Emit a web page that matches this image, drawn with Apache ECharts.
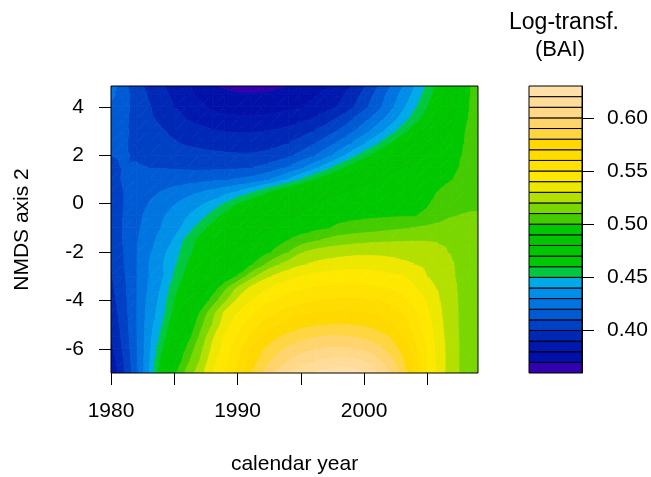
<!DOCTYPE html>
<html>
<head>
<meta charset="utf-8">
<script src="https://cdn.jsdelivr.net/npm/echarts@6/dist/echarts.min.js"></script>
<style>
  html, body { margin: 0; padding: 0; background: #fff; }
  #chart { width: 651px; height: 477px; }
</style>
</head>
<body>
<div id="chart"></div>
<script>
// grid of the surface: calendar year (columns) and NMDS axis 2 (rows, bottom to top)
var years = [1980, 1981, 1982, 1983, 1984, 1985, 1986, 1987, 1988, 1989,
  1990, 1991, 1992, 1993, 1994, 1995, 1996, 1997, 1998, 1999,
  2000, 2001, 2002, 2003, 2004, 2005, 2006, 2007, 2008, 2009];
var nmds = [-7, -6.5, -6, -5.5, -5, -4.5, -4, -3.5, -3, -2.5, -2, -1.5, -1,
  -0.5, 0, 0.5, 1, 1.5, 2, 2.5, 3, 3.5, 4, 4.5, 4.86];

// log-transformed BAI, one row per nmds value
var logBAI = [
  [0.381, 0.398, 0.417, 0.4395, 0.468, 0.497, 0.513, 0.525, 0.539, 0.550, 0.564, 0.579, 0.590, 0.601, 0.6105, 0.615, 0.6205, 0.624, 0.626, 0.625, 0.622, 0.611, 0.600, 0.586, 0.570, 0.550, 0.534, 0.524, 0.516, 0.513],
  [0.384, 0.400, 0.418, 0.4385, 0.464, 0.490, 0.507, 0.520, 0.536, 0.547, 0.559, 0.573, 0.584, 0.593, 0.600, 0.606, 0.6095, 0.612, 0.614, 0.613, 0.610, 0.603, 0.594, 0.582, 0.566, 0.548, 0.534, 0.524, 0.516, 0.513],
  [0.387, 0.402, 0.4185, 0.4375, 0.458, 0.480, 0.502, 0.516, 0.532, 0.544, 0.556, 0.569, 0.579, 0.586, 0.592, 0.596, 0.599, 0.601, 0.6015, 0.6005, 0.598, 0.593, 0.586, 0.577, 0.563, 0.548, 0.534, 0.524, 0.516, 0.513],
  [0.3895, 0.4035, 0.419, 0.4365, 0.453, 0.474, 0.494, 0.511, 0.528, 0.541, 0.551, 0.561, 0.572, 0.578, 0.583, 0.587, 0.5895, 0.591, 0.591, 0.590, 0.588, 0.584, 0.580, 0.570, 0.559, 0.546, 0.533, 0.5235, 0.516, 0.513],
  [0.392, 0.4045, 0.4195, 0.4355, 0.449, 0.469, 0.488, 0.506, 0.520, 0.536, 0.546, 0.554, 0.562, 0.568, 0.573, 0.576, 0.5785, 0.580, 0.5805, 0.580, 0.5785, 0.576, 0.572, 0.565, 0.555, 0.544, 0.532, 0.523, 0.516, 0.513],
  [0.394, 0.4055, 0.4195, 0.4345, 0.445, 0.463, 0.482, 0.500, 0.516, 0.532, 0.540, 0.547, 0.556, 0.560, 0.564, 0.5675, 0.570, 0.571, 0.5715, 0.571, 0.570, 0.568, 0.564, 0.560, 0.552, 0.541, 0.531, 0.523, 0.516, 0.513],
  [0.396, 0.4065, 0.4195, 0.433, 0.443, 0.460, 0.475, 0.489, 0.504, 0.518, 0.532, 0.539, 0.545, 0.5495, 0.554, 0.557, 0.5595, 0.561, 0.562, 0.562, 0.5615, 0.5605, 0.558, 0.553, 0.546, 0.539, 0.530, 0.5225, 0.516, 0.513],
  [0.3975, 0.4075, 0.4195, 0.4315, 0.441, 0.456, 0.469, 0.481, 0.493, 0.508, 0.522, 0.532, 0.538, 0.5425, 0.546, 0.549, 0.551, 0.5525, 0.553, 0.553, 0.5525, 0.5515, 0.550, 0.546, 0.541, 0.534, 0.528, 0.522, 0.516, 0.513],
  [0.399, 0.4085, 0.4195, 0.430, 0.438, 0.451, 0.464, 0.474, 0.482, 0.491, 0.501, 0.515, 0.526, 0.532, 0.5365, 0.540, 0.5425, 0.544, 0.5445, 0.545, 0.5445, 0.5435, 0.542, 0.5405, 0.536, 0.530, 0.525, 0.521, 0.5155, 0.513],
  [0.3995, 0.4095, 0.4195, 0.430, 0.439, 0.448, 0.460, 0.468, 0.476, 0.483, 0.490, 0.498, 0.508, 0.518, 0.524, 0.5285, 0.5315, 0.5335, 0.535, 0.536, 0.536, 0.5355, 0.534, 0.532, 0.530, 0.527, 0.524, 0.5205, 0.5155, 0.513],
  [0.400, 0.410, 0.4195, 0.4285, 0.437, 0.445, 0.456, 0.465, 0.473, 0.480, 0.486, 0.491, 0.496, 0.502, 0.510, 0.519, 0.523, 0.525, 0.526, 0.527, 0.5275, 0.5275, 0.527, 0.526, 0.525, 0.5235, 0.5215, 0.519, 0.515, 0.5125],
  [0.401, 0.411, 0.419, 0.4265, 0.4335, 0.441, 0.453, 0.463, 0.471, 0.4775, 0.483, 0.488, 0.492, 0.496, 0.500, 0.504, 0.508, 0.5115, 0.5145, 0.516, 0.517, 0.518, 0.5185, 0.519, 0.5195, 0.5195, 0.519, 0.518, 0.514, 0.512],
  [0.402, 0.411, 0.418, 0.4245, 0.4305, 0.4365, 0.4435, 0.455, 0.464, 0.471, 0.477, 0.482, 0.486, 0.4895, 0.4925, 0.495, 0.497, 0.499, 0.502, 0.5035, 0.505, 0.506, 0.5075, 0.509, 0.5105, 0.512, 0.514, 0.515, 0.513, 0.512],
  [0.403, 0.4105, 0.417, 0.423, 0.4285, 0.434, 0.4395, 0.4445, 0.454, 0.463, 0.470, 0.4755, 0.480, 0.484, 0.4875, 0.4905, 0.493, 0.495, 0.4965, 0.4975, 0.498, 0.4985, 0.499, 0.4995, 0.4998, 0.501, 0.505, 0.5095, 0.511, 0.511],
  [0.404, 0.410, 0.4155, 0.4205, 0.425, 0.4295, 0.434, 0.4385, 0.443, 0.451, 0.460, 0.467, 0.473, 0.478, 0.4825, 0.486, 0.489, 0.4915, 0.4935, 0.495, 0.496, 0.497, 0.4975, 0.498, 0.4985, 0.4995, 0.502, 0.5045, 0.5065, 0.508],
  [0.405, 0.410, 0.414, 0.4175, 0.4205, 0.4235, 0.4265, 0.4295, 0.4325, 0.436, 0.4405, 0.447, 0.455, 0.463, 0.470, 0.476, 0.481, 0.485, 0.488, 0.4905, 0.4925, 0.494, 0.495, 0.496, 0.497, 0.498, 0.5005, 0.5025, 0.504, 0.5055],
  [0.407, 0.411, 0.4135, 0.4145, 0.415, 0.4155, 0.416, 0.417, 0.418, 0.4195, 0.421, 0.4235, 0.427, 0.433, 0.441, 0.450, 0.459, 0.467, 0.474, 0.480, 0.485, 0.489, 0.492, 0.494, 0.4955, 0.497, 0.498, 0.500, 0.5025, 0.5045],
  [0.4085, 0.4105, 0.411, 0.410, 0.4095, 0.409, 0.4085, 0.408, 0.408, 0.408, 0.4085, 0.4095, 0.412, 0.416, 0.421, 0.428, 0.436, 0.445, 0.455, 0.465, 0.473, 0.479, 0.484, 0.488, 0.491, 0.494, 0.496, 0.4985, 0.5015, 0.504],
  [0.410, 0.411, 0.409, 0.407, 0.406, 0.4045, 0.4035, 0.4025, 0.402, 0.4015, 0.401, 0.401, 0.402, 0.404, 0.408, 0.413, 0.419, 0.426, 0.435, 0.445, 0.455, 0.465, 0.473, 0.480, 0.486, 0.491, 0.494, 0.497, 0.501, 0.504],
  [0.411, 0.411, 0.408, 0.405, 0.403, 0.401, 0.399, 0.398, 0.397, 0.396, 0.3955, 0.3955, 0.396, 0.3975, 0.400, 0.404, 0.409, 0.415, 0.422, 0.430, 0.439, 0.448, 0.459, 0.469, 0.477, 0.484, 0.489, 0.494, 0.5005, 0.504],
  [0.413, 0.4115, 0.408, 0.404, 0.401, 0.398, 0.395, 0.393, 0.391, 0.390, 0.3895, 0.3895, 0.390, 0.391, 0.393, 0.396, 0.400, 0.405, 0.411, 0.418, 0.426, 0.435, 0.444, 0.455, 0.466, 0.475, 0.483, 0.490, 0.500, 0.504],
  [0.415, 0.412, 0.407, 0.402, 0.398, 0.394, 0.390, 0.387, 0.3845, 0.383, 0.382, 0.382, 0.3825, 0.3835, 0.385, 0.3875, 0.391, 0.396, 0.402, 0.409, 0.417, 0.425, 0.434, 0.444, 0.455, 0.466, 0.476, 0.486, 0.499, 0.5035],
  [0.418, 0.413, 0.407, 0.401, 0.395, 0.390, 0.386, 0.382, 0.378, 0.376, 0.375, 0.3745, 0.375, 0.376, 0.3775, 0.3795, 0.382, 0.386, 0.391, 0.398, 0.407, 0.416, 0.426, 0.437, 0.448, 0.460, 0.472, 0.484, 0.4985, 0.503],
  [0.423, 0.414, 0.406, 0.399, 0.393, 0.388, 0.383, 0.378, 0.376, 0.373, 0.3715, 0.371, 0.3715, 0.373, 0.3745, 0.376, 0.379, 0.382, 0.387, 0.394, 0.403, 0.413, 0.423, 0.433, 0.443, 0.455, 0.468, 0.482, 0.498, 0.503],
  [0.426, 0.413, 0.404, 0.397, 0.391, 0.386, 0.382, 0.376, 0.372, 0.368, 0.366, 0.365, 0.365, 0.367, 0.370, 0.373, 0.376, 0.379, 0.383, 0.390, 0.399, 0.409, 0.419, 0.429, 0.440, 0.452, 0.466, 0.480, 0.4975, 0.503]
];

// contour levels and their fill colours (as in the key)
var levels = [0.36, 0.37, 0.38, 0.39, 0.40, 0.41, 0.42, 0.43, 0.44, 0.45, 0.46, 0.47, 0.48, 0.49,
  0.50, 0.51, 0.52, 0.53, 0.54, 0.55, 0.56, 0.57, 0.58, 0.59, 0.60, 0.61, 0.62, 0.63];
var levelColors = ['#3300b0', '#0010a8', '#0018ae', '#0028b6', '#0040c4', '#005ad4', '#0074e0',
  '#008ee8', '#00aae8', '#00c840', '#00c800', '#00c600', '#00c500', '#00c800', '#44cc00',
  '#7ad800', '#b3e000', '#eee800', '#ffe800', '#ffe200', '#ffdc00', '#ffd800', '#ffd540',
  '#ffd46c', '#ffd888', '#ffdc98', '#ffe0a8'];

var xTicks = [1980, 1985, 1990, 1995, 2000, 2005];
var xLabels = [1980, 1990, 2000];
var yTicks = [-6, -4, -2, 0, 2, 4];
var keyTicks = [0.40, 0.45, 0.50, 0.55, 0.60];

// keep the part of a polygon where sign * (value - thr) >= 0
function clipPoly(poly, thr, sign) {
  var res = [];
  for (var n = 0; n < poly.length; n++) {
    var a = poly[n], b = poly[(n + 1) % poly.length];
    var ina = sign * (a[2] - thr) >= 0, inb = sign * (b[2] - thr) >= 0;
    if (ina) res.push(a);
    if (ina !== inb) {
      var t = (thr - a[2]) / (b[2] - a[2]);
      res.push([a[0] + t * (b[0] - a[0]), a[1] + t * (b[1] - a[1]), thr]);
    }
  }
  return res;
}

// split one triangle of the grid into filled contour bands
function bands(tri, out) {
  var vals = tri.map(function (p) { return p[2]; });
  var vmin = Math.min.apply(null, vals), vmax = Math.max.apply(null, vals);
  for (var k = 0; k < levels.length - 1; k++) {
    var lo = k === 0 ? -Infinity : levels[k];
    var hi = k === levels.length - 2 ? Infinity : levels[k + 1];
    if (vmax < lo || vmin > hi) continue;
    var poly = clipPoly(tri, lo, 1);
    if (poly.length < 3) continue;
    poly = clipPoly(poly, hi, -1);
    if (poly.length < 3) continue;
    out.push({
      type: 'polygon',
      silent: true,
      shape: { points: poly.map(function (p) { return [p[0], p[1]]; }) },
      style: { fill: levelColors[k], stroke: levelColors[k], lineWidth: 0.8 }
    });
  }
}

var cells = [];
for (var j = 0; j < nmds.length - 1; j++) {
  for (var i = 0; i < years.length - 1; i++) {
    cells.push([years[i], nmds[j], i, j]);
  }
}
var keyCells = levels.slice(0, -1).map(function (lo, k) { return [0, lo, k]; });

var font = 'Liberation Sans';
var chart = echarts.init(document.getElementById('chart'));
chart.setOption({
  animation: false,
  backgroundColor: '#fff',
  textStyle: { fontFamily: font },
  grid: [
    { left: 111, top: 86, width: 367, height: 287, show: true, z: 10,
      outerBoundsMode: 'none', containLabel: false,
      borderColor: '#000', borderWidth: 1, backgroundColor: 'transparent' },
    { left: 529, top: 86, width: 53, height: 287, outerBoundsMode: 'none', containLabel: false }
  ],
  xAxis: [
    {
      type: 'value', gridIndex: 0, min: 1980, max: 2009, z: 10,
      name: 'calendar year', nameLocation: 'middle', nameGap: 81,
      nameTextStyle: { fontSize: 21, color: '#000' },
      axisLine: { show: false, onZero: false },
      axisTick: { customValues: xTicks, length: 12, lineStyle: { color: '#000' } },
      axisLabel: { customValues: xLabels, margin: 28, fontSize: 21, color: '#000',
        formatter: function (v) { return String(v); } },
      splitLine: { show: false }
    },
    { type: 'value', gridIndex: 1, min: 0, max: 1, show: false }
  ],
  yAxis: [
    {
      type: 'value', gridIndex: 0, min: -7, max: 4.86, z: 10,
      name: 'NMDS axis 2', nameLocation: 'middle', nameGap: 78, nameRotate: 90,
      nameTextStyle: { fontSize: 21, color: '#000' },
      axisLine: { show: false, onZero: false },
      axisTick: { customValues: yTicks, length: 12, lineStyle: { color: '#000' } },
      axisLabel: { customValues: yTicks, margin: 27, fontSize: 21, color: '#000' },
      splitLine: { show: false }
    },
    {
      type: 'value', gridIndex: 1, min: 0.36, max: 0.63, position: 'right', z: 10,
      axisLine: { show: true, onZero: false, lineStyle: { color: '#000' } },
      axisTick: { customValues: keyTicks, length: 12, lineStyle: { color: '#000' } },
      axisLabel: { customValues: keyTicks, margin: 25, fontSize: 21, color: '#000',
        formatter: function (v) { return v.toFixed(2); } },
      splitLine: { show: false }
    }
  ],
  graphic: [
    { type: 'text', x: 564, y: 23, silent: true,
      style: { text: 'Log-transf.', fontFamily: font, fontSize: 23, fill: '#000', align: 'center', verticalAlign: 'middle' } },
    { type: 'text', x: 560, y: 50, silent: true,
      style: { text: '(BAI)', fontFamily: font, fontSize: 22, fill: '#000', align: 'center', verticalAlign: 'middle' } }
  ],
  series: [
    {
      type: 'custom', xAxisIndex: 0, yAxisIndex: 0, clip: true, silent: true,
      data: cells,
      renderItem: function (params, api) {
        var i = api.value(2), j = api.value(3);
        var c = [[i, j], [i + 1, j], [i + 1, j + 1], [i, j + 1]].map(function (q) {
          var p = api.coord([years[q[0]], nmds[q[1]]]);
          return [p[0], p[1], logBAI[q[1]][q[0]]];
        });
        var children = [];
        bands([c[0], c[1], c[2]], children);
        bands([c[0], c[2], c[3]], children);
        return { type: 'group', children: children };
      }
    },
    {
      type: 'custom', xAxisIndex: 1, yAxisIndex: 1, silent: true,
      data: keyCells,
      renderItem: function (params, api) {
        var k = api.value(2);
        var p0 = api.coord([0, levels[k]]);
        var p1 = api.coord([1, levels[k + 1]]);
        return {
          type: 'rect',
          shape: { x: p0[0], y: p1[1], width: p1[0] - p0[0], height: p0[1] - p1[1] },
          style: { fill: levelColors[k], stroke: '#000', lineWidth: 1 }
        };
      }
    }
  ]
});
</script>
</body>
</html>
